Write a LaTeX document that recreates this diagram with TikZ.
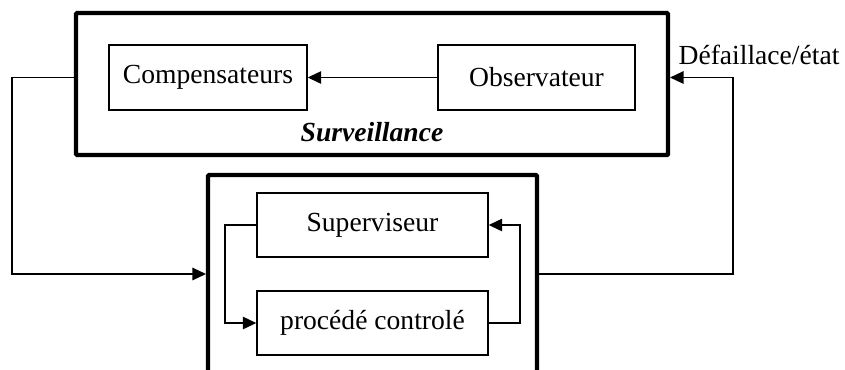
\documentclass[tikz,border=0pt]{standalone}
\usepackage{fontspec}
\setmainfont{Liberation Serif}
\usetikzlibrary{arrows.meta}

\begin{document}
\begin{tikzpicture}
\tikzset{bloc/.style={draw,line width=0.8pt,inner sep=0pt}}
\tikzset{cadre/.style={draw,line width=2.3pt,inner sep=0pt,rounded corners=0.5pt}}
\tikzset{fleche/.style={line width=0.7pt,-{Triangle[length=0.27cm,width=0.25cm]}}}
\tikzset{ligne/.style={line width=0.7pt}}

\fontsize{15.7}{18}\selectfont

\clip (0,0) rectangle (16.9,-7.38);

\node[cadre,minimum width=11.84cm,minimum height=2.84cm] (surv) at (7.44,-1.68) {};
\node[cadre,minimum width=6.58cm,minimum height=4.5cm] (sys) at (7.45,-5.75) {};

\node[bloc,minimum width=3.96cm,minimum height=1.3cm] (comp) at (4.16,-1.55) {Compensateurs};
\node[bloc,minimum width=3.94cm,minimum height=1.3cm] (obs) at (10.73,-1.55) {Observateur};
\node (survlab) at (7.44,-2.64) {\textbf{\textit{Surveillance}}};
\node (etat) at (15.18,-1.1) {Défaillace/état};

\node[bloc,minimum width=4.62cm,minimum height=1.28cm] (sup) at (7.45,-4.5) {Superviseur};
\node[bloc,minimum width=4.62cm,minimum height=1.28cm] (proc) at (7.45,-6.46) {procédé controlé};

\coordinate (lb) at (0.24,-5.48);
\coordinate (rb) at (14.66,-5.48);
\coordinate (gb) at (4.5,-6.46);
\coordinate (db) at (10.4,-6.46);

\draw[fleche] (obs) -- (comp);
\draw[fleche] (comp -| surv.west) -| (lb) -- (lb -| sys.west);
\draw[fleche] (lb -| sys.east) -- (rb) |- (obs -| surv.east);
\draw[fleche] (sup.west) -| (gb) -- (proc.west);
\draw[fleche] (proc.east) -- (db) |- (sup.east);

\end{tikzpicture}
\end{document}
